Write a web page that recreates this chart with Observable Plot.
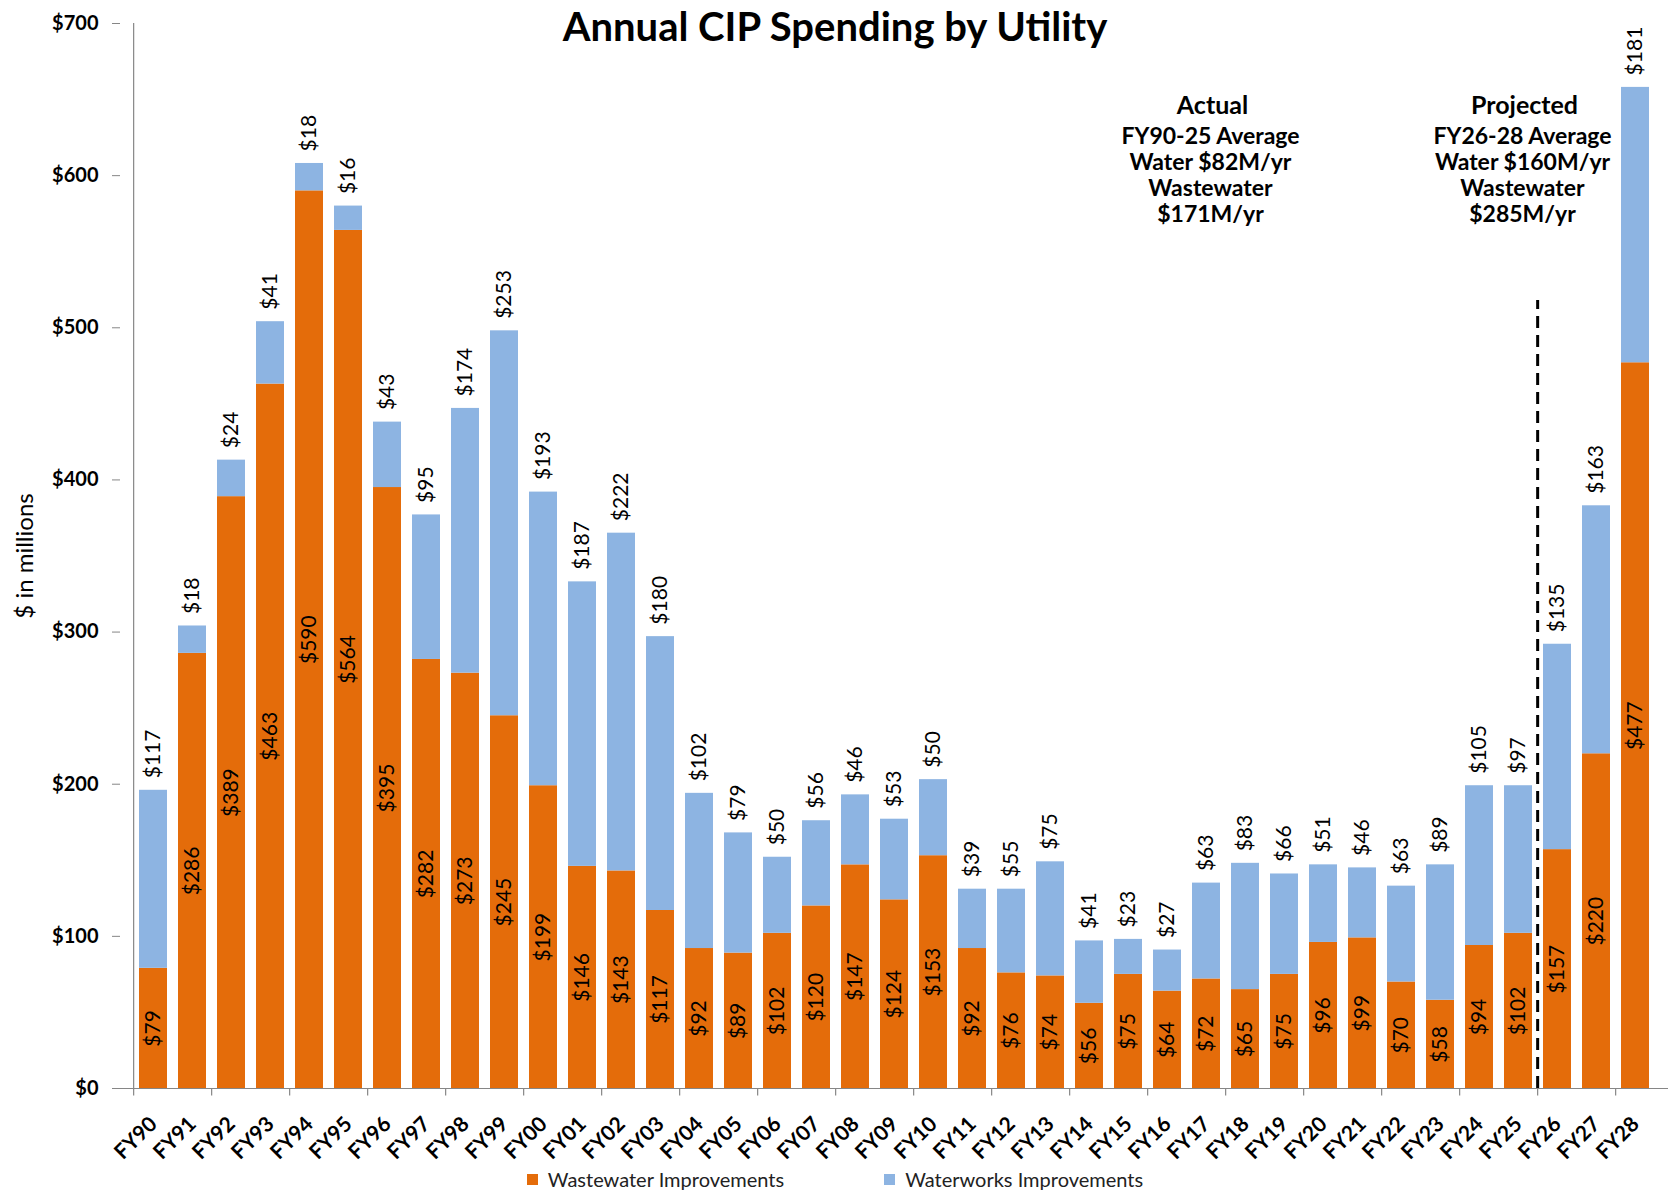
<!DOCTYPE html>
<html>
<head>
<meta charset="utf-8">
<script src="https://cdn.jsdelivr.net/npm/d3@7"></script>
<script src="https://cdn.jsdelivr.net/npm/@observablehq/plot@0.6"></script>
<style>
  html, body { margin: 0; padding: 0; background: #fff; overflow: hidden; }
  #wrap { position: relative; width: 1670px; height: 1193px; font-family: Lato, "Open Sans", sans-serif; overflow: hidden; }
  #title { position: absolute; top: 4px; left: 0; width: 1670px; text-align: center; font-size: 40px; font-weight: bold; color: #000; margin: 0; line-height: 44px; z-index: 2; }
  #chart svg { display: block; max-width: none; }
  #legend { display: flex; justify-content: center; gap: 100px; font-size: 20px; color: #222; height: 28px; align-items: center; }
  .item { display: flex; align-items: center; gap: 10px; }
  .sw { width: 11px; height: 11px; display: inline-block; }
</style>
</head>
<body>
<div id="wrap">
  <div id="title">Annual CIP Spending by Utility</div>
  <div id="chart"></div>
  <div id="legend"></div>
</div>
<script>
const years = ["FY90","FY91","FY92","FY93","FY94","FY95","FY96","FY97","FY98","FY99","FY00","FY01","FY02","FY03","FY04","FY05","FY06","FY07","FY08","FY09","FY10","FY11","FY12","FY13","FY14","FY15","FY16","FY17","FY18","FY19","FY20","FY21","FY22","FY23","FY24","FY25","FY26","FY27","FY28"];
const wastewater = [79,286,389,463,590,564,395,282,273,245,199,146,143,117,92,89,102,120,147,124,153,92,76,74,56,75,64,72,65,75,96,99,70,58,94,102,157,220,477];
const waterworks = [117,18,24,41,18,16,43,95,174,253,193,187,222,180,102,79,50,56,46,53,50,39,55,75,41,23,27,63,83,66,51,46,63,89,105,97,135,163,181];
const seriesNames = ["Wastewater Improvements", "Waterworks Improvements"];
const seriesColors = ["#E46C0A", "#8DB4E2"];
const yTicks = [0,100,200,300,400,500,600,700];
const annotations = [
  {x: "FY17", headY: 646, bodyY: 633, head: "Actual", body: "FY90-25 Average\nWater $82M/yr\nWastewater\n$171M/yr"},
  {x: "FY25", headY: 646, bodyY: 633, head: "Projected", body: "FY26-28 Average\nWater $160M/yr\nWastewater\n$285M/yr"}
];
const dividerYear = "FY26";
const dividerTop = 518;

const width = 1670, height = 1165;
const ml = 120, mr = 2, mt = 23, mb = 77;
const step = (width - ml - mr) / years.length;
const gray = "#868686";

const rows = years.flatMap((yr, i) => [
  {year: yr, type: seriesNames[0], value: wastewater[i]},
  {year: yr, type: seriesNames[1], value: waterworks[i]}
]);
const tops = years.map((yr, i) => ({year: yr, ww: wastewater[i], wt: waterworks[i]}));

const chart = Plot.plot({
  width, height,
  marginLeft: ml, marginRight: mr, marginTop: mt, marginBottom: mb,
  style: {fontFamily: "Lato, 'Open Sans', sans-serif", color: "#000", background: "transparent", overflow: "visible"},
  x: {type: "band", domain: years, paddingInner: 0.28, paddingOuter: 0.14, label: null},
  y: {domain: [0, 700], label: null},
  color: {domain: seriesNames, range: seriesColors},
  marks: [
    Plot.barY(rows, {x: "year", y: "value", fill: "type"}),
    Plot.ruleY([0], {stroke: gray, strokeWidth: 1.2}),
    Plot.ruleX([years[0]], {x: d => d, y1: 0, y2: 700, dx: -step / 2, stroke: gray, strokeWidth: 1.2}),
    Plot.ruleX(years.filter((d, i) => i % 2 === 0), {x: d => d, y1: 0, y2: -5, dx: -step / 2, stroke: gray, strokeWidth: 1.2}),
    Plot.ruleX([dividerYear], {x: d => d, y1: 0, y2: dividerTop, dx: -step / 2, stroke: "#000", strokeWidth: 3, strokeDasharray: "12,7"}),
    Plot.axisY({ticks: yTicks, tickFormat: d => "$" + d, tickSize: 8, tickPadding: 14, fontWeight: "bold", fontSize: 20, stroke: gray, label: null}),
    Plot.axisX({tickRotate: -45, tickSize: 0, tickPadding: 32, fontWeight: "bold", fontSize: 21, label: null}),
    Plot.text(["$ in millions"], {frameAnchor: "left", textAnchor: "middle", rotate: -90, dx: -95, fontSize: 24, fill: "#000"}),
    Plot.text(tops, {x: "year", y: d => d.ww / 2, text: d => "$" + d.ww, rotate: -90, fontSize: 21, fill: "#000"}),
    Plot.text(tops, {x: "year", y: d => d.ww + d.wt, text: d => "$" + d.wt, rotate: -90, textAnchor: "start", dy: -12, fontSize: 21, fill: "#000"}),
    Plot.text(annotations, {x: "x", y: "headY", text: "head", lineAnchor: "middle", fontWeight: "bold", fontSize: 25, dx: 6, fill: "#000"}),
    Plot.text(annotations, {x: "x", y: "bodyY", text: "body", lineAnchor: "top", fontWeight: "bold", fontSize: 23, lineHeight: 1.13, dx: 4, fill: "#000"})
  ]
});
document.getElementById("chart").appendChild(chart);

const legend = document.getElementById("legend");
seriesNames.forEach((n, i) => {
  const it = document.createElement("div");
  it.className = "item";
  it.innerHTML = `<span class="sw" style="background:${seriesColors[i]}"></span><span>${n}</span>`;
  legend.appendChild(it);
});
</script>
</body>
</html>
